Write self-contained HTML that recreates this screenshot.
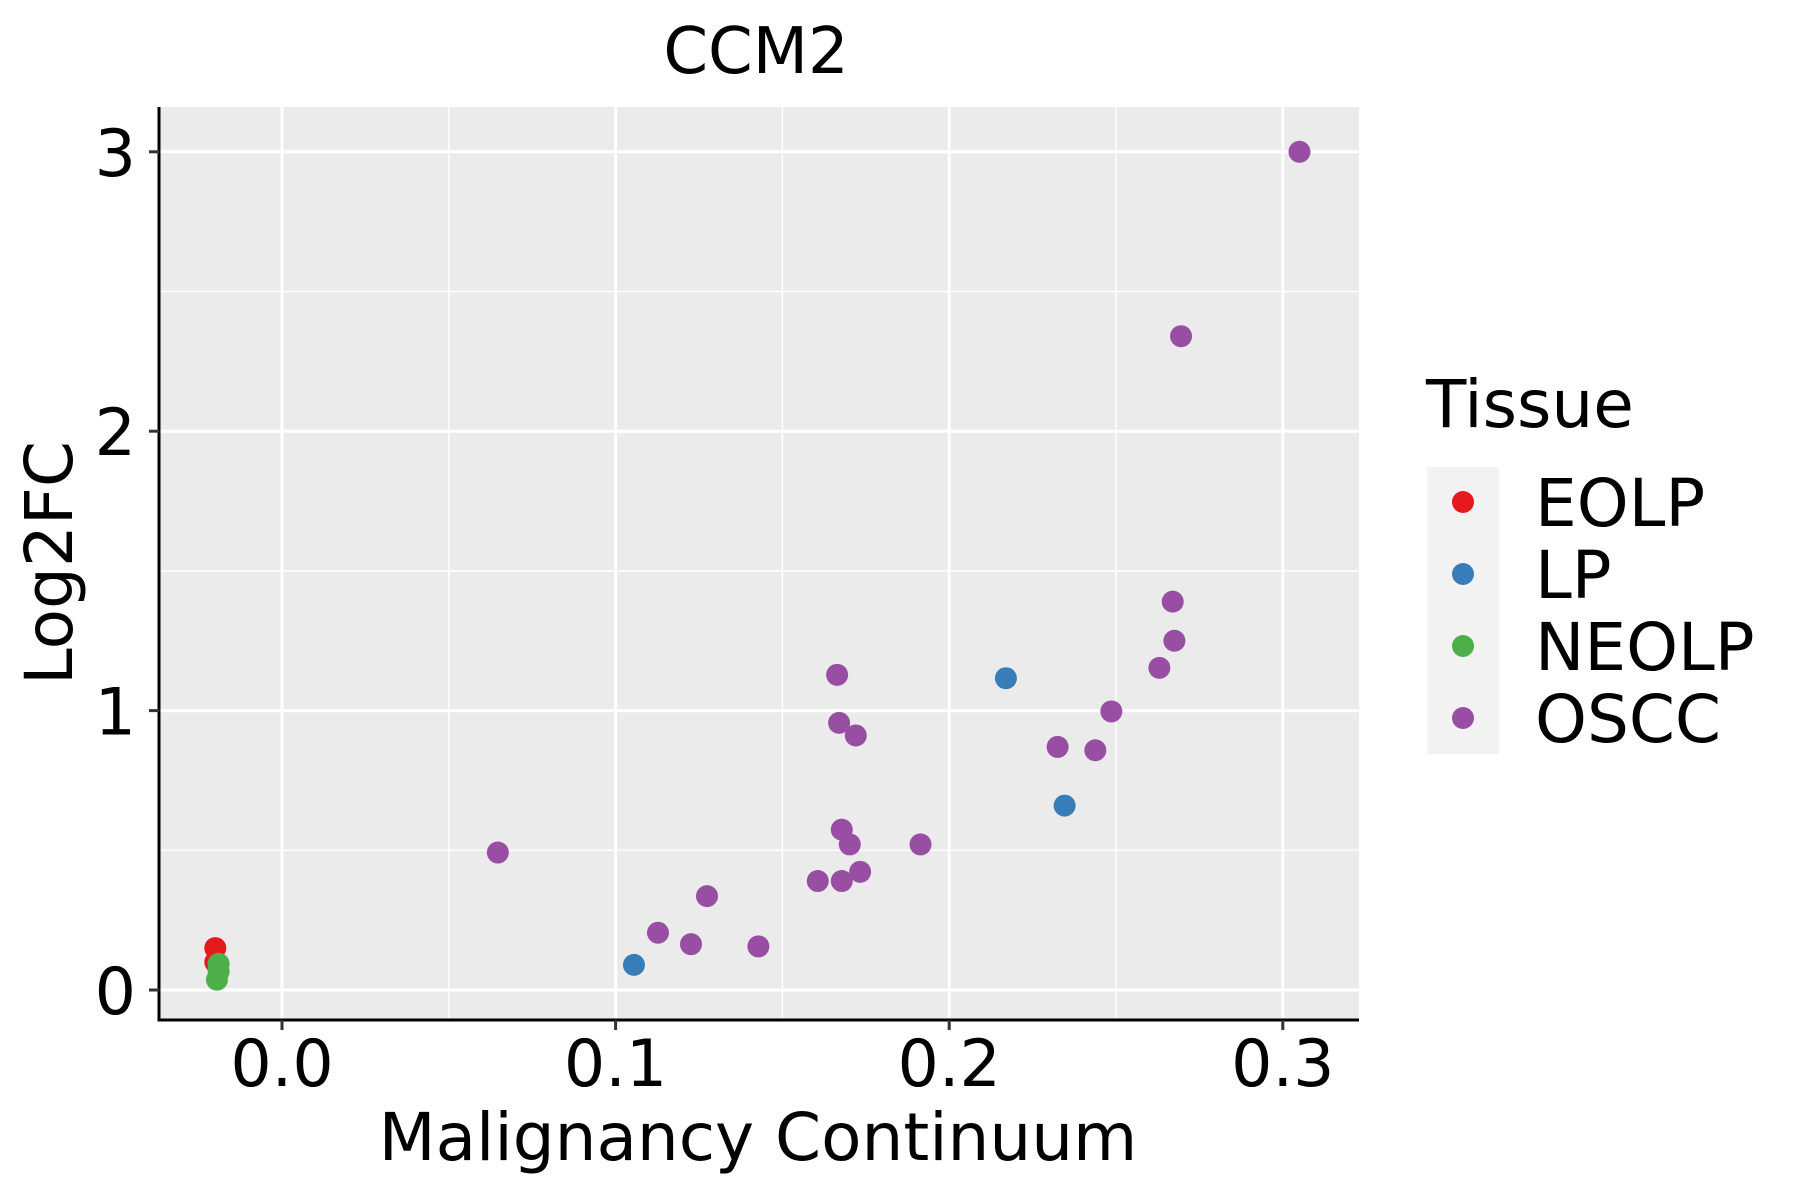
<!DOCTYPE html>
<html><head><meta charset="utf-8"><style>
html,body{margin:0;padding:0;background:#fff;}
svg{display:block;font-family:"DejaVu Sans","Liberation Sans",sans-serif;}
</style></head><body>
<svg id="chart" width="1800" height="1200" viewBox="0 0 1800 1200">
<text x="756" y="73" font-size="64" text-anchor="middle">CCM2</text>
<rect x="159" y="107" width="1200" height="913" fill="#EBEBEB"/>
<g id="grid"></g>
<g id="points"></g>
<line x1="159" y1="107" x2="159" y2="1021.5" stroke="#000" stroke-width="3"/>
<line x1="157.5" y1="1020" x2="1359" y2="1020" stroke="#000" stroke-width="3"/>
<g id="axes"></g>
<text x="758" y="1160" font-size="66" text-anchor="middle">Malignancy Continuum</text>
<text transform="translate(72,563) rotate(-90)" font-size="66" text-anchor="middle">Log2FC</text>
<g>
<text x="1426" y="427" font-size="66">Tissue</text>
<rect x="1427" y="467" width="72" height="287" fill="#F2F2F2"/>
<g id="legend"></g>
</g>
</svg>
<script>
const xTicks = [0.0, 0.1, 0.2, 0.3];
const xTickLabels = ["0.0", "0.1", "0.2", "0.3"];
const xMinor = [0.05, 0.15, 0.25];
const yTicks = [0, 1, 2, 3];
const yTickLabels = ["0", "1", "2", "3"];
const yMinor = [0.5, 1.5, 2.5];
const tissues = ["EOLP", "LP", "NEOLP", "OSCC"];
const colors = ["#E41A1C", "#377EB8", "#4DAF4A", "#984EA3"];
const eolpX = [-0.020, -0.020];
const eolpY = [0.15, 0.10];
const lpX = [0.1055, 0.217, 0.2346];
const lpY = [0.09, 1.116, 0.66];
const neolpX = [-0.019, -0.0195, -0.019];
const neolpY = [0.094, 0.037, 0.066];
const osccX = [0.305, 0.2695, 0.267, 0.2675, 0.263, 0.2486, 0.2325, 0.2438, 0.1664, 0.167, 0.172, 0.1678, 0.1702, 0.1914, 0.1733, 0.1606, 0.1678, 0.1274, 0.1127, 0.1226, 0.1428, 0.0647];
const osccY = [3.0, 2.34, 1.39, 1.25, 1.153, 0.997, 0.87, 0.858, 1.128, 0.956, 0.911, 0.574, 0.521, 0.521, 0.423, 0.39, 0.39, 0.336, 0.205, 0.164, 0.156, 0.492];

const NS = "http://www.w3.org/2000/svg";
const PL = 159, PR = 1359, PT = 107, PB = 1020;
function xs(v){ return 282 + v * 3336; }
function ys(v){ return 990 - v * 279.4; }
function mk(tag, attrs, parent){
  const e = document.createElementNS(NS, tag);
  for (const k in attrs) e.setAttribute(k, attrs[k]);
  parent.appendChild(e);
  return e;
}
const grid = document.getElementById('grid');
xMinor.forEach(v => {
  const l = mk('line', {x1: xs(v), x2: xs(v), y1: PT, y2: PB, stroke: '#fff', 'stroke-width': 1.5}, grid);
  
  
});
yMinor.forEach(v => {
  const l = mk('line', {x1: PL, x2: PR, y1: ys(v), y2: ys(v), stroke: '#fff', 'stroke-width': 1.5}, grid);
  
  
});
xTicks.forEach(v => {
  const l = mk('line', {x1: xs(v), x2: xs(v), y1: PT, y2: PB, stroke: '#fff', 'stroke-width': 3}, grid);
  
  
});
yTicks.forEach(v => {
  const l = mk('line', {x1: PL, x2: PR, y1: ys(v), y2: ys(v), stroke: '#fff', 'stroke-width': 3}, grid);
  
  
});
const axes = document.getElementById('axes');
xTicks.forEach((v, i) => {
  const t = mk('line', {x1: xs(v), x2: xs(v), y1: PB, y2: PB + 10, stroke: '#333', 'stroke-width': 3}, axes);
  
  
  const tx = mk('text', {x: xs(v), y: 1086, 'font-size': 65, 'text-anchor': 'middle', fill: '#000'}, axes);
  tx.textContent = xTickLabels[i];
  
  
});
yTicks.forEach((v, i) => {
  const t = mk('line', {x1: PL - 10, x2: PL, y1: ys(v), y2: ys(v), stroke: '#333', 'stroke-width': 3}, axes);
  
  
  const tx = mk('text', {x: 136, y: ys(v) + 24, 'font-size': 65, 'text-anchor': 'end', fill: '#000'}, axes);
  tx.textContent = yTickLabels[i];
  
  
});
const pts = document.getElementById('points');
const seriesX = [eolpX, lpX, neolpX, osccX];
const seriesY = [eolpY, lpY, neolpY, osccY];
seriesX.forEach((xsArr, s) => {
  xsArr.forEach((xv, i) => {
    const c = mk('circle', {cx: xs(xv), cy: ys(seriesY[s][i]), r: 11, fill: colors[s]}, pts);
    
    
  });
});
const leg = document.getElementById('legend');
tissues.forEach((name, i) => {
  const cy = 502 + i * 72;
  const c = mk('circle', {cx: 1463, cy: cy, r: 11, fill: colors[i]}, leg);
  
  
  const t = mk('text', {x: 1535, y: cy + 24, 'font-size': 66, fill: '#000'}, leg);
  t.textContent = name;
  
  
});
</script>
</body></html>
